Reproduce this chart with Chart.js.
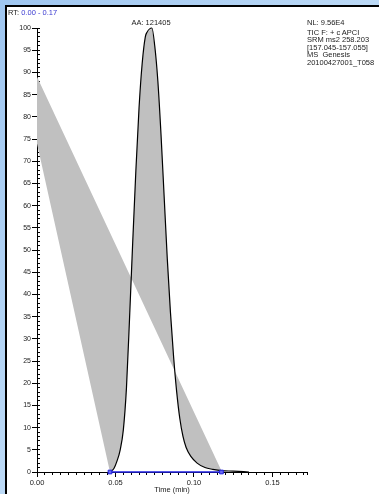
<!DOCTYPE html>
<html>
<head>
<meta charset="utf-8">
<script src="https://cdn.jsdelivr.net/npm/chart.js@4.4.0/dist/chart.umd.min.js"></script>
<style>
html, body { margin: 0; padding: 0; }
body {
  width: 379px; height: 494px; overflow: hidden; position: relative;
  background: linear-gradient(to bottom right, #9fc6f0, #d9edfc);
  font-family: "Liberation Sans", Arial, sans-serif;
}
#panel { position: absolute; left: 5px; top: 5px; right: 0; bottom: 0; background: #fff;
  border-left: 2px solid #000; border-top: 2px solid #000; }
#chart { position: absolute; left: 0; top: 0; }
.note { position: absolute; font-size: 7.5px; line-height: 7.5px; color: #222; white-space: nowrap; }
</style>
</head>
<body>
<div id="panel"></div>
<canvas id="chart" width="379" height="494"></canvas>

<div class="note" style="left:8px; top:9px;">RT: <span style="color:#3a3ad0">0.00 - 0.17</span></div>
<div class="note" style="left:151px; top:19px; transform:translateX(-50%);">AA: 121405</div>
<div class="note" style="left:307px; top:19px;">NL: 9.56E4</div>
<div class="note" style="left:307px; top:29px;">TIC F: + c APCI</div>
<div class="note" style="left:307px; top:36.3px;">SRM ms2 258.203</div>
<div class="note" style="left:307px; top:44px;">[157.045-157.055]</div>
<div class="note" style="left:307px; top:51.3px;">MS&nbsp; Genesis</div>
<div class="note" style="left:307px; top:59.3px;">20100427001_T058</div>

<script>
// peak trace (time in min, relative abundance %)
const peakTime = [0.0465, 0.049, 0.051, 0.053, 0.055, 0.057, 0.059, 0.061, 0.063, 0.065, 0.067,
  0.069, 0.0700, 0.0732, 0.075, 0.077, 0.079, 0.081, 0.083, 0.085, 0.087, 0.089, 0.091, 0.093,
  0.095, 0.098, 0.102, 0.107, 0.112, 0.1175];
const peakValue = [0, 0.8, 2.5, 5, 9.5, 19, 35, 52, 68, 82, 92,
  98, 99, 100, 96, 88, 76, 62, 48, 36, 26, 18, 12, 8,
  5.5, 3.5, 2, 1, 0.6, 0.3];
// trace continues after the integration end
const tailTime = [0.125, 0.135];
const tailValue = [0.2, 0];

// integration baseline
const baseTime = [0.0465, 0.1175];
const baseValue = [0, 0];

// the shaded area polygon starts and ends on the y axis
const shadeStartValue = 74;
const shadeEndValue = 89;

const xMax = 0.172;
const xMajorStep = 0.05, xMinorStep = 0.005;
const yMajorStep = 5, yMinorStep = 1;

const toPts = (xs, ys) => xs.map((x, i) => ({ x: x, y: ys[i] }));

const tracePts = toPts(peakTime.concat(tailTime), peakValue.concat(tailValue));
const shadePts = [{ x: 0, y: shadeStartValue }]
  .concat(toPts(peakTime, peakValue))
  .concat([{ x: 0, y: shadeEndValue }]);

const font = { family: 'Liberation Sans', size: 7.5 };

new Chart(document.getElementById('chart'), {
  type: 'line',
  data: {
    datasets: [
      {
        label: 'baseline',
        data: toPts(baseTime, baseValue),
        borderColor: '#1f1fe0',
        borderWidth: 1.5,
        pointStyle: 'rect',
        pointRadius: 2.6,
        pointBorderWidth: 1,
        pointBorderColor: '#1f1fe0',
        pointBackgroundColor: '#6a6af0',
        clip: false,
        order: 0
      },
      {
        label: 'trace',
        data: tracePts,
        borderColor: '#000',
        borderWidth: 1.2,
        pointRadius: 0,
        cubicInterpolationMode: 'monotone',
        clip: false,
        order: 1
      },
      {
        label: 'area',
        data: shadePts,
        fill: 'shape',
        backgroundColor: '#c0c0c0',
        borderColor: 'rgba(0,0,0,0)',
        borderWidth: 0,
        pointRadius: 0,
        tension: 0,
        order: 2
      }
    ]
  },
  options: {
    responsive: false,
    animation: false,
    layout: { padding: { top: 28, right: 72, left: 0, bottom: 0 } },
    plugins: { legend: { display: false }, tooltip: { enabled: false } },
    scales: {
      x: {
        type: 'linear', min: 0, max: xMax, bounds: 'data',
        ticks: { stepSize: xMajorStep, includeBounds: false, autoSkip: false, maxRotation: 0,
          padding: 1, color: '#222', font: font, callback: v => v.toFixed(2) },
        grid: { drawOnChartArea: false, tickLength: 5, color: '#000' },
        border: { color: '#000', width: 1 },
        title: { display: true, text: 'Time (min)', color: '#222', font: font, padding: 0 },
        afterFit: s => { s.height = 22; }
      },
      y: {
        type: 'linear', min: 0, max: 100, bounds: 'data',
        ticks: { stepSize: yMajorStep, includeBounds: false, autoSkip: false,
          padding: 1, color: '#222', font: { family: 'Liberation Sans', size: 7 } },
        grid: { drawOnChartArea: false, tickLength: 5, color: '#000' },
        border: { color: '#000', width: 1 },
        afterFit: s => { s.width = 37; }
      },
      x2: {
        type: 'linear', axis: 'x', position: { y: 0 }, min: 0, max: xMax, bounds: 'data',
        ticks: { display: false, stepSize: xMinorStep, includeBounds: false },
        grid: { drawOnChartArea: false, tickLength: 3, color: '#000' },
        border: { display: false }
      },
      y2: {
        type: 'linear', axis: 'y', position: { x: 0 }, min: 0, max: 100, bounds: 'data',
        ticks: { display: false, stepSize: yMinorStep, includeBounds: false },
        grid: { drawOnChartArea: false, tickLength: -3, color: '#000' },
        border: { display: false }
      }
    }
  }
});
</script>
</body>
</html>
